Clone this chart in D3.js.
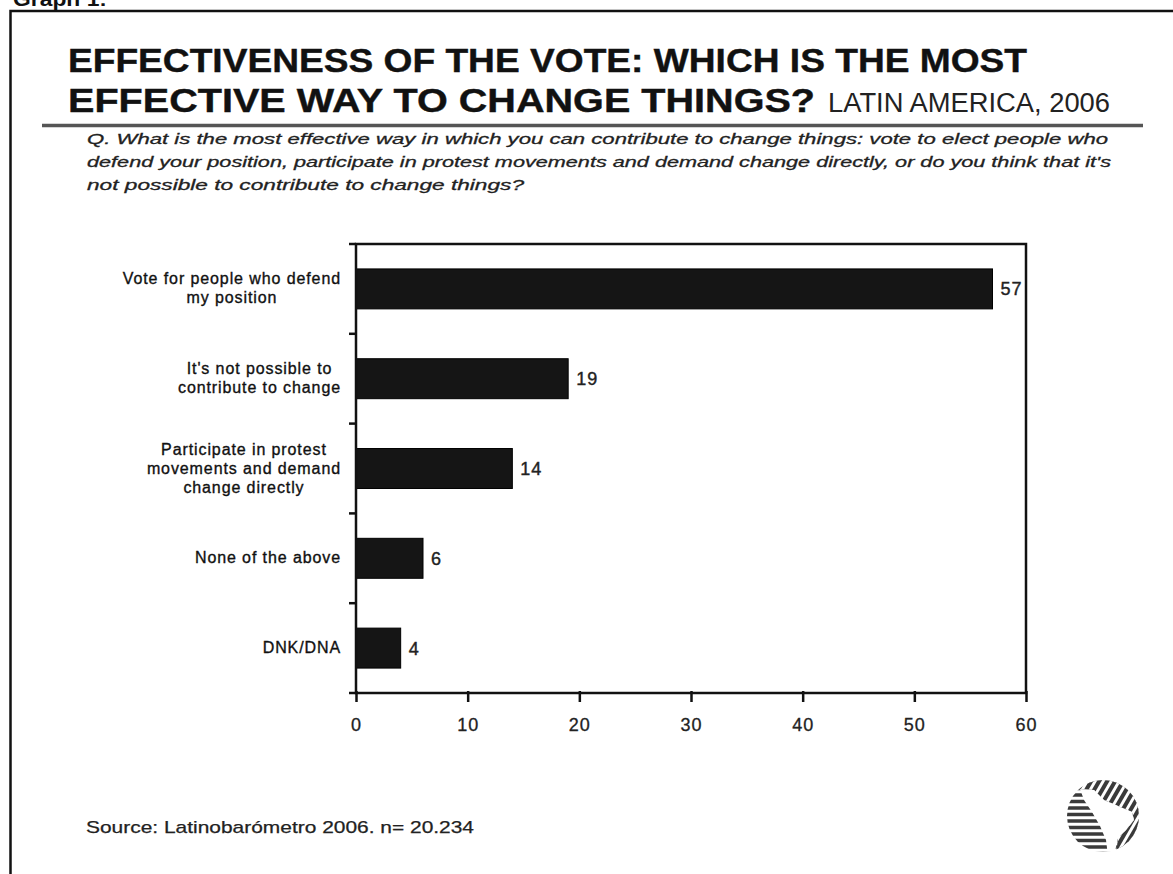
<!DOCTYPE html>
<html><head><meta charset="utf-8">
<script src="https://cdn.jsdelivr.net/npm/d3@7"></script>
<style>
body{margin:0;background:#fff}
svg{display:block}
text{font-family:"Liberation Sans",Arial,Helvetica,sans-serif}
</style>
</head><body>
<svg id="chart" width="1173" height="874"></svg>
<script>
// ---- data ----
const categories = [
  "Vote for people who defend\nmy position",
  "It's not possible to\ncontribute to change",
  "Participate in protest\nmovements and demand\nchange directly",
  "None of the above",
  "DNK/DNA"
];
const values = [57, 19, 14, 6, 4];
const xTicks = [0, 10, 20, 30, 40, 50, 60];
const xDomain = [0, 60];
const headerLabel = "Graph 1:";
const titleLine1 = "EFFECTIVENESS OF THE VOTE: WHICH IS THE MOST";
const titleLine2 = "EFFECTIVE WAY TO CHANGE THINGS?";
const titleSub = "LATIN AMERICA, 2006";
const questionLines = [
  "Q. What is the most effective way in which you can contribute to change things: vote to elect people who",
  "defend your position, participate in protest movements and demand change directly, or do you think that it's",
  "not possible to contribute to change things?"
];
const sourceText = "Source: Latinobarómetro 2006. n= 20.234";

// ---- drawing ----
const svg = d3.select("#chart");
svg.append("rect").attr("width",1173).attr("height",874).attr("fill","#fff");

function fit(sel, w){ sel.attr("textLength", w).attr("lengthAdjust","spacingAndGlyphs"); return sel; }
const narrow = '"Liberation Sans Narrow","Arial Narrow","Liberation Sans",Arial,sans-serif';

// header + frame
fit(svg.append("text").attr("x",13).attr("y",6).attr("font-size",20).attr("font-weight","bold")
  .attr("fill","#111").text(headerLabel), 94);
svg.append("path").attr("d","M10.5,874 V11 H1173").attr("fill","none")
  .attr("stroke","#111").attr("stroke-width",2.5);

// titles
fit(svg.append("text").attr("x",68).attr("y",72).attr("font-size",33).attr("font-weight","bold")
  .attr("font-family",narrow).attr("fill","#111").attr("stroke","#111").attr("stroke-width",0.4)
  .text(titleLine1), 959);
fit(svg.append("text").attr("x",68).attr("y",112).attr("font-size",33).attr("font-weight","bold")
  .attr("font-family",narrow).attr("fill","#111").attr("stroke","#111").attr("stroke-width",0.4)
  .text(titleLine2), 747);
fit(svg.append("text").attr("x",828).attr("y",112).attr("font-size",27)
  .attr("font-family",narrow).attr("fill","#222").text(titleSub), 282);
svg.append("line").attr("x1",42).attr("x2",1143).attr("y1",125.5).attr("y2",125.5)
  .attr("stroke","#555").attr("stroke-width",3.5);

// question
const qWidths = [1021, 1024, 437];
questionLines.forEach((t,i)=>{
  fit(svg.append("text").attr("x",87).attr("y",144 + i*23).attr("font-size",15)
    .attr("font-style","italic").attr("fill","#222").attr("stroke","#222").attr("stroke-width",0.3)
    .text(t), qWidths[i]);
});

// scales
const x = d3.scaleLinear().domain(xDomain).range([356, 1026]);
const y = d3.scaleBand().domain(categories).range([244, 693]).paddingInner(0.555).paddingOuter(0.2775);

const g = svg.append("g");

// bars
g.selectAll("rect.bar").data(values).join("rect").attr("class","bar")
  .attr("x", x(0)).attr("y",(d,i)=>y(categories[i]))
  .attr("width", d=>x(d)-x(0)).attr("height", y.bandwidth())
  .attr("fill","#151515").attr("stroke","#000").attr("stroke-width",1);

// frame
g.append("rect").attr("x",x(0)).attr("y",244).attr("width",x(60)-x(0)).attr("height",693-244)
  .attr("fill","none").attr("stroke","#111").attr("stroke-width",2.5);

// bottom axis
const ax = g.append("g").attr("transform","translate(0,693)")
  .call(d3.axisBottom(x).tickValues(xTicks).tickSize(9).tickSizeOuter(0).tickPadding(16));
ax.select(".domain").remove();
ax.selectAll(".tick line").attr("stroke","#111").attr("stroke-width",2.5).attr("y1",-2);
ax.selectAll(".tick text").attr("font-size",18).attr("fill","#222")
  .attr("font-family",'"Liberation Sans",Arial,sans-serif').attr("letter-spacing","1px")
  .attr("stroke","#222").attr("stroke-width",0.3);

// left ticks at band boundaries
const edgeTicks = [244].concat(categories.slice(1).map(c => y(c) - (y.step()-y.bandwidth())/2), [693]);
g.selectAll("line.lt").data(edgeTicks).join("line").attr("class","lt")
  .attr("x1",x(0)-7).attr("x2",x(0)).attr("y1",d=>d).attr("y2",d=>d)
  .attr("stroke","#111").attr("stroke-width",2.5);

// value labels
g.selectAll("text.val").data(values).join("text").attr("class","val")
  .attr("x", d=>x(d)+8).attr("y",(d,i)=>y(categories[i])+y.bandwidth()/2)
  .attr("dy","0.36em").attr("font-size",18).attr("fill","#222").attr("letter-spacing","1px")
  .attr("stroke","#222").attr("stroke-width",0.4)
  .text(d=>d);

// category labels: right-aligned block, centered lines
categories.forEach(c=>{
  const lines = c.split("\n");
  const cy = y(c) + y.bandwidth()/2;
  const lh = 19;
  const tg = g.append("g");
  const ts = lines.map((ln,i)=> tg.append("text")
    .attr("y", cy - (lines.length-1)*lh/2 + i*lh + 5)
    .attr("font-size",16).attr("fill","#111").attr("letter-spacing","0.9px")
    .attr("stroke","#111").attr("stroke-width",0.35)
    .attr("text-anchor","middle").text(ln));
  const maxW = d3.max(ts, t=>t.node().getComputedTextLength());
  ts.forEach(t=>t.attr("x", 341 - maxW/2));
});

// source
fit(svg.append("text").attr("x",86).attr("y",833).attr("font-size",17).attr("fill","#222")
  .attr("stroke","#222").attr("stroke-width",0.25)
  .text(sourceText), 388);

// logo
const cx = 1103, cyL = 816, r = 36;
const defs = svg.append("defs");
defs.append("clipPath").attr("id","logoClip").append("circle").attr("cx",cx).attr("cy",cyL).attr("r",r);
const continent = [[1080,789],[1094,790],[1104,800],[1118,806],[1132,812],[1134,820],[1126,830],[1118,838],[1114,856],[1108,856],[1106,840],[1100,826],[1092,812],[1084,800]];
const diagRegion = [[1060,760],[1150,760],[1150,870],[1114,870],[1118,838],[1126,830],[1134,820],[1132,812],[1118,806],[1104,800],[1094,790],[1080,789],[1060,796]];
defs.append("clipPath").attr("id","diagClip").append("polygon").attr("points",diagRegion.map(p=>p.join(",")).join(" "));
const logo = svg.append("g").attr("clip-path","url(#logoClip)");
logo.append("circle").attr("cx",cx).attr("cy",cyL).attr("r",r).attr("fill","#fff");
const hs = d3.range(cyL-r, cyL+r, 6.5);
logo.selectAll("line.h").data(hs).join("line").attr("class","h")
  .attr("x1",cx-r).attr("x2",cx+r).attr("y1",d=>d+2).attr("y2",d=>d+2)
  .attr("stroke","#3a3a3a").attr("stroke-width",3.6);
const dg = logo.append("g").attr("clip-path","url(#diagClip)");
dg.append("rect").attr("x",cx-r).attr("y",cyL-r).attr("width",2*r).attr("height",2*r).attr("fill","#fff");
const ds = d3.range(-80, 80, 8);
dg.selectAll("line.d").data(ds).join("line").attr("class","d")
  .attr("x1",d=>cx+d-40).attr("y1",cyL+69).attr("x2",d=>cx+d+40).attr("y2",cyL-69)
  .attr("stroke","#3a3a3a").attr("stroke-width",4);
logo.append("polygon").attr("points",continent.map(p=>p.join(",")).join(" ")).attr("fill","#fff");
</script>
</body></html>
